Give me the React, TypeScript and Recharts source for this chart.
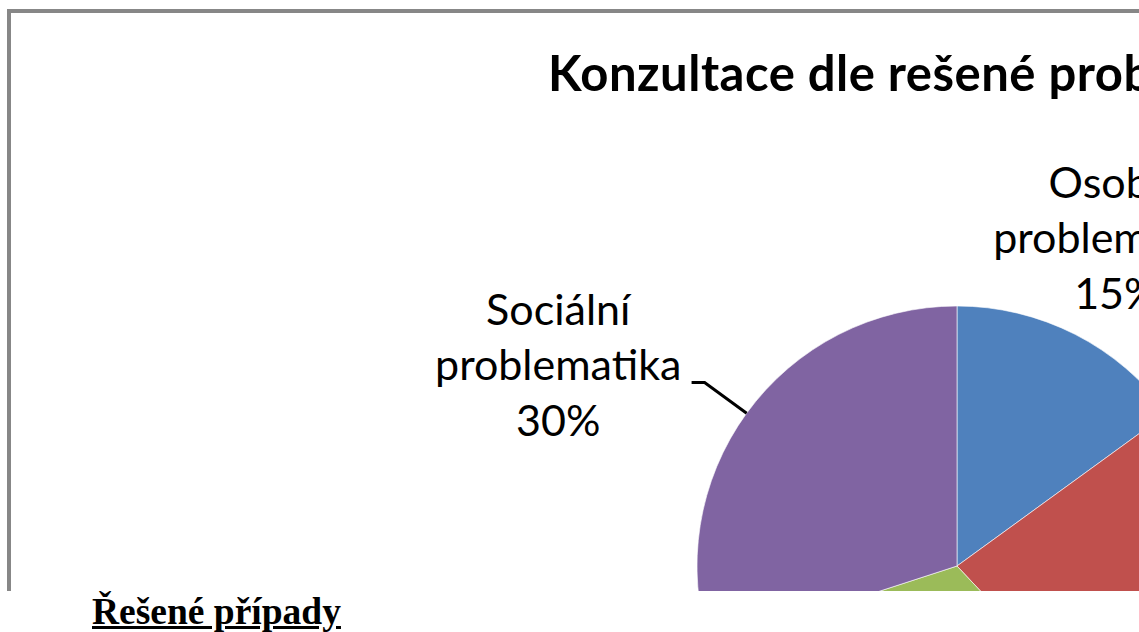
import React from "react";
import { PieChart, Pie, Cell } from "recharts";

const categories = [
  "Osobní problematika",
  "Rodinná problematika",
  "Zdravotní problematika",
  "Sociální problematika",
];
const shares = [15, 23, 32, 30];
const colors = ["#4F81BD", "#C0504D", "#9BBB59", "#8064A2"];
const percentLabels = ["15%", "23%", "32%", "30%"];

const titleText = "Konzultace dle rešené problematiky";
const footerText = "Řešené případy";

// label placement relative to slice (distance from centre, angle shift in degrees)
const labelPlacement: Record<string, { dist: number; shift: number; leader: boolean }> = {
  "Osobní problematika": { dist: 351, shift: 0, leader: false },
  "Sociální problematika": { dist: 440, shift: 11, leader: true },
};

const data = categories.map((name, i) => ({ name, value: shares[i], pct: percentLabels[i] }));

const RAD = Math.PI / 180;
const FONT = "Lato, 'Open Sans', sans-serif";

const renderLabel = (props: any) => {
  const { cx, cy, midAngle, outerRadius, index } = props;
  const entry = data[index];
  const place = labelPlacement[entry.name];
  if (!place) return null;
  const a = (midAngle + place.shift) * RAD;
  const tx = cx + place.dist * Math.cos(a);
  const ty = cy - place.dist * Math.sin(a);
  const words = entry.name.split(" ");
  const m = midAngle * RAD;
  const sx = cx + outerRadius * Math.cos(m);
  const sy = cy - outerRadius * Math.sin(m);
  const ex = cx + outerRadius * 1.2 * Math.cos(m);
  const ey = cy - outerRadius * 1.2 * Math.sin(m);
  return (
    <g key={`lbl-${index}`}>
      {place.leader && (
        <polyline
          points={`${sx},${sy} ${ex},${ey} ${ex - 13},${ey}`}
          fill="none"
          stroke="#000"
          strokeWidth={3}
        />
      )}
      <text
        x={tx}
        y={ty}
        textAnchor="middle"
        fontFamily={FONT}
        fontSize={43}
        fill="#000"
      >
        <tspan x={tx} dy={-55}>{words[0]}</tspan>
        <tspan x={tx} dy={55}>{words[1]}</tspan>
        <tspan x={tx} dy={56}>{entry.pct}</tspan>
      </text>
    </g>
  );
};

export default function App() {
  return (
    <div
      style={{
        position: "fixed",
        left: 0,
        top: 0,
        width: 1139,
        height: 632,
        background: "#fff",
        overflow: "hidden",
      }}
    >
      <div
        style={{
          position: "absolute",
          left: 0,
          top: 0,
          width: 1139,
          height: 591,
          overflow: "hidden",
        }}
      >
        <div
          style={{
            position: "absolute",
            left: 7,
            top: 9,
            width: 1300,
            height: 800,
            border: "4px solid #878787",
            boxSizing: "border-box",
          }}
        />
        <div
          style={{
            position: "absolute",
            left: 548,
            top: 44,
            fontFamily: FONT,
            fontWeight: 700,
            fontSize: 49,
            letterSpacing: 0.5,
            lineHeight: "56px",
            whiteSpace: "nowrap",
            color: "#000",
          }}
        >
          {titleText}
        </div>
        <div style={{ position: "absolute", left: 0, top: 0 }}>
          <PieChart width={1139} height={591} margin={{ top: 0, right: 0, bottom: 0, left: 0 }}>
            <Pie
              data={data}
              dataKey="value"
              nameKey="name"
              cx={957}
              cy={566}
              outerRadius={260}
              startAngle={90}
              endAngle={-270}
              stroke="#ffffff"
              strokeWidth={0.6}
              label={renderLabel}
              labelLine={false}
              isAnimationActive={false}
            >
              {data.map((d, i) => (
                <Cell key={d.name} fill={colors[i]} />
              ))}
            </Pie>
          </PieChart>
        </div>
      </div>
      <div
        style={{
          position: "absolute",
          left: 92,
          top: 590,
          fontFamily: "'Liberation Serif', 'Times New Roman', serif",
          fontWeight: 700,
          fontSize: 37.5,
          lineHeight: "44px",
          textDecoration: "underline",
          whiteSpace: "nowrap",
          color: "#000",
        }}
      >
        {footerText}
      </div>
    </div>
  );
}
